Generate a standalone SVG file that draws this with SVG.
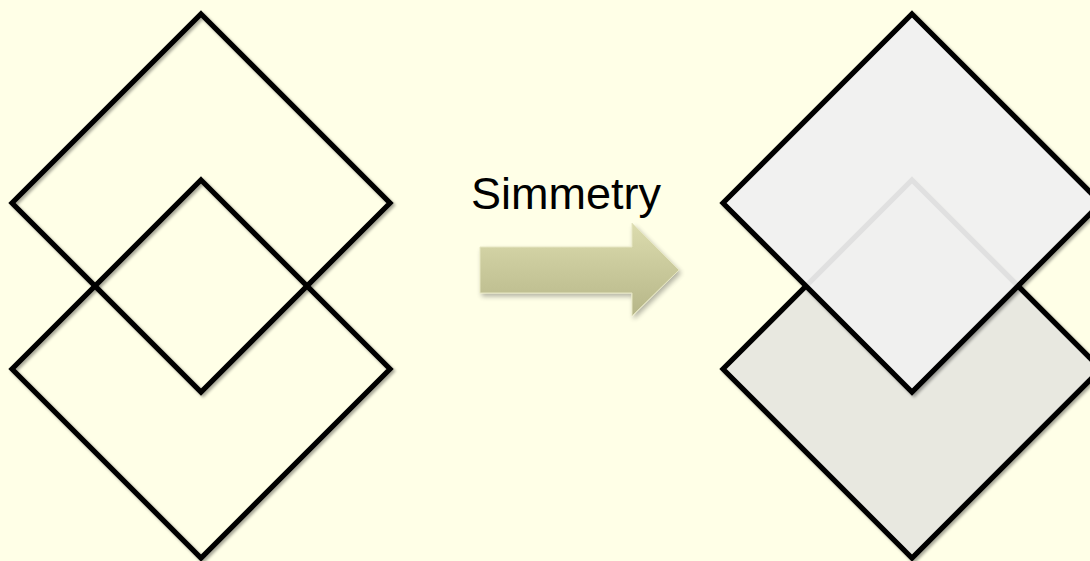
<svg xmlns="http://www.w3.org/2000/svg" width="1090" height="561" viewBox="0 0 1090 561">
  <style>
    .outline { fill: none; stroke: #000; stroke-width: 5.2; stroke-linejoin: miter; }
    .base { fill: #E8E8E0; stroke: #000; stroke-width: 5.2; }
    .cover { fill: #F4F4F4; fill-opacity: 0.9; stroke: #000; stroke-width: 5.2; }
    .label { font-family: "Liberation Sans", Arial, sans-serif; font-size: 45px; fill: #000; }
  </style>
  <defs>
    <filter id="shadow" x="-10%" y="-10%" width="120%" height="120%">
      <feGaussianBlur in="SourceAlpha" stdDeviation="1.6"/>
      <feOffset dx="1.5" dy="2" result="b"/>
      <feComponentTransfer><feFuncA type="linear" slope="0.35"/></feComponentTransfer>
      <feMerge><feMergeNode/><feMergeNode in="SourceGraphic"/></feMerge>
    </filter>
    <filter id="arrowShadow" x="-10%" y="-20%" width="125%" height="150%">
      <feGaussianBlur in="SourceAlpha" stdDeviation="2.5"/>
      <feOffset dx="2" dy="3"/>
      <feComponentTransfer><feFuncA type="linear" slope="0.3"/></feComponentTransfer>
      <feMerge><feMergeNode/><feMergeNode in="SourceGraphic"/></feMerge>
    </filter>
    <linearGradient id="arrowFill" x1="0" y1="0" x2="0" y2="1">
      <stop offset="0" stop-color="#DCDCAE"/>
      <stop offset="1" stop-color="#B6B688"/>
    </linearGradient>
  </defs>

  <rect width="1090" height="561" fill="#FFFFE7"/>

  <!-- left pair: outlines only -->
  <g id="left-lower" filter="url(#shadow)">
    <polygon class="outline" points="201,180 390,369 201,558 12,369"/>
  </g>
  <g id="left-upper" filter="url(#shadow)">
    <polygon class="outline" points="201,14 390,203 201,392 12,203"/>
  </g>

  <!-- right pair: filled, upper one slightly translucent -->
  <g id="right-lower" filter="url(#shadow)">
    <polygon class="base" points="912,180 1101,369 912,558 723,369"/>
  </g>
  <g id="right-upper" filter="url(#shadow)">
    <polygon class="cover" points="912,14 1101,203 912,392 723,203"/>
  </g>

  <g id="connectors">
    <g id="arrow" filter="url(#arrowShadow)">
      <polygon points="480,247 632,247 632,223 679,270 632,316 632,293 480,293"
               fill="url(#arrowFill)" stroke="#E6E6C2" stroke-width="1"/>
    </g>
  </g>

  <g id="caption">
    <text class="label" x="471" y="209">Simmetry</text>
  </g>
</svg>
